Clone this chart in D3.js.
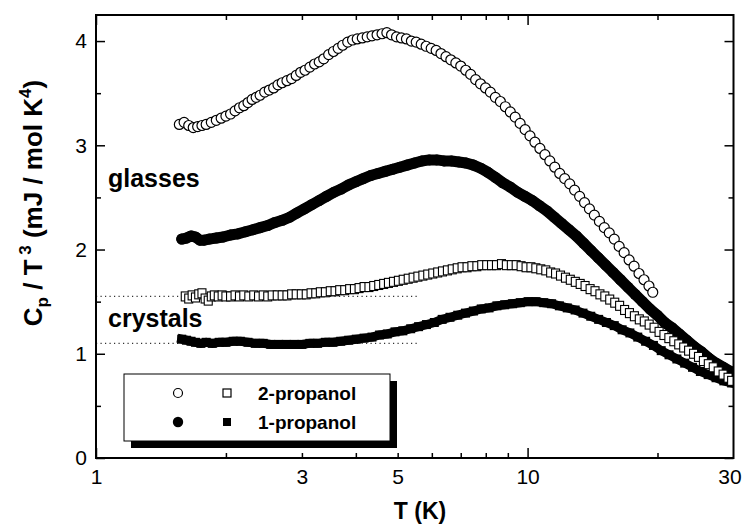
<!DOCTYPE html>
<html><head><meta charset="utf-8">
<script src="https://cdn.jsdelivr.net/npm/d3@7/dist/d3.min.js"></script>
<style>body{margin:0;background:#fff} text{font-family:"Liberation Sans",Arial,Helvetica,sans-serif}</style>
</head><body><svg id="c" width="744" height="526"></svg>
<script>
// ---- tick labels ----
const xTickLabels = [1, 3, 5, 10, 30];
const xMajorTicks = [1, 10];
const xMinorTicks = [2, 3, 4, 5, 6, 7, 8, 9, 20];
const yTickLabels = [0, 1, 2, 3, 4];
const yMinorTicks = [0.5, 1.5, 2.5, 3.5];
const refLevels = [1.55, 1.10];          // dotted low-T plateaus of the crystals
const refLevelTmax = 5.55;
const annotations = ["glasses", "crystals"];
const legendNames = ["2-propanol", "1-propanol"];

// ---- 2-propanol glass (open circles) ----
const T_glass2 = [1.56,1.60,1.64,1.68,1.72,1.76,1.80,1.85,1.90,1.95,2.00,2.05,2.10,2.15,2.20,2.25,2.30,2.35,2.40,2.46,2.52,2.58,2.64,2.70,2.77,2.84,2.91,2.98,3.05,3.13,3.21,3.29,3.37,3.46,3.55,3.64,3.73,3.83,3.93,4.03,4.14,4.25,4.36,4.48,4.60,4.72,4.84,4.97,5.10,5.24,5.38,5.52,5.67,5.82,5.98,6.14,6.30,6.47,6.64,6.82,7.00,7.19,7.38,7.58,7.78,7.99,8.20,8.42,8.65,8.88,9.12,9.36,9.61,9.87,10.13,10.40,10.68,10.97,11.26,11.56,11.87,12.19,12.52,12.85,13.20,13.55,13.91,14.28,14.67,15.06,15.46,15.88,16.30,16.74,17.19,17.65,18.12,18.61,19.11,19.50];
const C_glass2 = [3.20,3.22,3.19,3.17,3.18,3.19,3.20,3.22,3.24,3.26,3.28,3.30,3.33,3.36,3.38,3.41,3.44,3.46,3.48,3.51,3.53,3.55,3.58,3.60,3.62,3.64,3.67,3.70,3.72,3.75,3.78,3.80,3.83,3.87,3.90,3.93,3.96,3.99,4.01,4.02,4.03,4.04,4.05,4.06,4.07,4.08,4.06,4.04,4.03,4.02,4.00,3.99,3.97,3.95,3.93,3.91,3.88,3.85,3.82,3.79,3.76,3.72,3.68,3.63,3.59,3.55,3.51,3.46,3.42,3.37,3.32,3.27,3.21,3.15,3.09,3.03,2.97,2.91,2.85,2.79,2.73,2.68,2.63,2.57,2.51,2.45,2.39,2.33,2.27,2.21,2.16,2.10,2.03,1.97,1.90,1.84,1.77,1.71,1.65,1.59];

// ---- 1-propanol glass (filled circles) ----
const T_glass1 = [1.58,1.62,1.66,1.70,1.74,1.78,1.83,1.90,1.97,2.05,2.13,2.22,2.31,2.40,2.50,2.60,2.70,2.81,2.92,3.04,3.16,3.29,3.42,3.56,3.70,3.85,4.00,4.16,4.33,4.50,4.68,4.87,5.06,5.26,5.47,5.69,5.92,6.16,6.40,6.66,6.93,7.20,7.49,7.79,8.10,8.43,8.76,9.11,9.48,9.86,10.25,10.66,11.09,11.53,11.99,12.47,12.97,13.49,14.03,14.59,15.17,15.78,16.41,17.07,17.75,18.46,19.20,19.97,20.77,21.60,22.46,23.36,24.29,25.26,26.27,27.32,28.41,29.55];
const C_glass1 = [2.10,2.11,2.13,2.12,2.09,2.09,2.10,2.11,2.12,2.14,2.15,2.17,2.19,2.21,2.23,2.26,2.28,2.31,2.35,2.39,2.43,2.47,2.51,2.55,2.58,2.62,2.65,2.68,2.71,2.73,2.75,2.77,2.79,2.81,2.83,2.85,2.86,2.86,2.85,2.85,2.84,2.83,2.81,2.78,2.74,2.69,2.64,2.60,2.55,2.51,2.47,2.42,2.37,2.31,2.25,2.19,2.13,2.06,1.99,1.92,1.85,1.78,1.71,1.64,1.57,1.50,1.43,1.37,1.30,1.25,1.19,1.13,1.07,1.02,0.96,0.91,0.87,0.83];

// ---- 2-propanol crystal (open squares) ----
const T_cryst2 = [1.61,1.64,1.67,1.70,1.73,1.76,1.79,1.82,1.85,1.88,1.92,1.96,2.00,2.05,2.10,2.15,2.20,2.26,2.32,2.38,2.44,2.50,2.56,2.63,2.70,2.77,2.84,2.91,2.99,3.07,3.15,3.23,3.31,3.40,3.49,3.58,3.67,3.77,3.87,3.97,4.07,4.18,4.29,4.40,4.52,4.64,4.76,4.89,5.02,5.15,5.29,5.43,5.57,5.72,5.87,6.03,6.19,6.35,6.52,6.69,6.87,7.05,7.24,7.43,7.63,7.83,8.04,8.25,8.47,8.70,8.93,9.17,9.41,9.66,9.92,10.18,10.45,10.73,11.02,11.31,11.61,11.92,12.24,12.56,12.90,13.24,13.59,13.96,14.33,14.71,15.10,15.50,15.92,16.34,16.78,17.22,17.68,18.15,18.64,19.13,19.64,20.17,20.70,21.25,21.82,22.40,23.00,23.61,24.24,24.89,25.55,26.23,26.93,27.65,28.38,29.14,29.70];
const C_cryst2 = [1.55,1.53,1.56,1.54,1.57,1.58,1.53,1.51,1.55,1.56,1.55,1.56,1.55,1.55,1.56,1.55,1.56,1.55,1.56,1.55,1.56,1.55,1.56,1.56,1.56,1.56,1.57,1.57,1.57,1.57,1.58,1.58,1.59,1.59,1.60,1.60,1.61,1.61,1.62,1.62,1.63,1.64,1.64,1.65,1.66,1.67,1.68,1.69,1.70,1.71,1.72,1.73,1.74,1.75,1.76,1.77,1.78,1.79,1.80,1.81,1.82,1.83,1.83,1.84,1.84,1.85,1.85,1.85,1.85,1.86,1.85,1.85,1.85,1.84,1.83,1.83,1.82,1.81,1.80,1.78,1.77,1.75,1.73,1.71,1.69,1.67,1.65,1.62,1.60,1.57,1.55,1.52,1.49,1.46,1.42,1.39,1.36,1.33,1.31,1.28,1.25,1.21,1.18,1.15,1.12,1.09,1.06,1.03,1.00,0.97,0.93,0.90,0.87,0.83,0.80,0.77,0.74];

// ---- 1-propanol crystal (filled squares) ----
const T_cryst1 = [1.58,1.62,1.66,1.70,1.75,1.80,1.86,1.93,2.00,2.08,2.16,2.25,2.34,2.44,2.54,2.65,2.76,2.88,3.00,3.13,3.26,3.40,3.54,3.69,3.85,4.01,4.18,4.36,4.54,4.73,4.93,5.14,5.36,5.59,5.83,6.08,6.34,6.61,6.89,7.18,7.49,7.81,8.14,8.49,8.85,9.23,9.62,10.03,10.46,10.90,11.37,11.85,12.36,12.89,13.44,14.01,14.61,15.23,15.88,16.56,17.26,18.00,18.77,19.57,20.40,21.27,22.18,23.12,24.11,25.14,26.21,27.33,28.49,29.70];
const C_cryst1 = [1.14,1.13,1.12,1.11,1.10,1.11,1.10,1.11,1.11,1.12,1.12,1.11,1.10,1.10,1.09,1.09,1.09,1.09,1.09,1.10,1.10,1.11,1.11,1.12,1.13,1.14,1.15,1.16,1.18,1.19,1.21,1.22,1.24,1.26,1.28,1.30,1.33,1.35,1.37,1.39,1.41,1.43,1.44,1.46,1.47,1.48,1.49,1.50,1.50,1.49,1.48,1.46,1.44,1.42,1.39,1.36,1.33,1.30,1.27,1.23,1.20,1.16,1.12,1.08,1.03,0.99,0.95,0.91,0.87,0.83,0.80,0.77,0.74,0.72];

// ---------------------------------------------------------------
const svg = d3.select("#c");
const L = 96, R = 733.5, B = 458, Tp = 15;
const x = d3.scaleLog().domain([1, 30]).range([L, R]);
const y = d3.scaleLinear().domain([0, 4.25]).range([B, Tp]);
const zip = (a, b) => a.map((t, i) => [t, b[i]]);

const plot = svg.append("g");
svg.append("clipPath").attr("id", "pc").append("rect")
  .attr("x", L).attr("y", Tp).attr("width", R - L).attr("height", B - Tp);
plot.attr("clip-path", "url(#pc)");

// dotted reference levels
plot.selectAll("line.ref").data(refLevels).join("line")
  .attr("x1", x(1)).attr("x2", x(refLevelTmax))
  .attr("y1", d => y(d)).attr("y2", d => y(d))
  .attr("stroke", "#333").attr("stroke-width", 1.2).attr("stroke-dasharray", "1.2,3.3");

const line = d3.line().x(d => x(d[0])).y(d => y(d[1])).curve(d3.curveLinear);

// filled circles: 1-propanol glass
const g1 = zip(T_glass1, C_glass1);
plot.append("path").datum(g1).attr("d", line).attr("fill", "none")
  .attr("stroke", "#000").attr("stroke-width", 11).attr("stroke-linejoin", "round").attr("stroke-linecap", "round");
plot.append("g").selectAll("circle").data(g1).join("circle")
  .attr("cx", d => x(d[0])).attr("cy", d => y(d[1])).attr("r", 5.5).attr("fill", "#000");

// filled squares: 1-propanol crystal
const c1 = zip(T_cryst1, C_cryst1);
plot.append("path").datum(c1).attr("d", line).attr("fill", "none")
  .attr("stroke", "#000").attr("stroke-width", 9).attr("stroke-linejoin", "miter").attr("stroke-linecap", "square");
plot.append("g").selectAll("rect").data(c1).join("rect")
  .attr("x", d => x(d[0]) - 4.5).attr("y", d => y(d[1]) - 4.5)
  .attr("width", 9).attr("height", 9).attr("fill", "#000");

// open squares: 2-propanol crystal
const c2 = zip(T_cryst2, C_cryst2);
plot.append("g").selectAll("rect").data(c2).join("rect")
  .attr("x", d => x(d[0]) - 4).attr("y", d => y(d[1]) - 4.5)
  .attr("width", 8).attr("height", 9).attr("fill", "#fff")
  .attr("stroke", "#000").attr("stroke-width", 1.1);

// open circles: 2-propanol glass
const g2 = zip(T_glass2, C_glass2);
plot.append("g").selectAll("circle").data(g2).join("circle")
  .attr("cx", d => x(d[0])).attr("cy", d => y(d[1])).attr("r", 5)
  .attr("fill", "#fff").attr("stroke", "#000").attr("stroke-width", 1.2);

// ---- ticks (inward, all four sides) ----
function ticks(axisGen, vals, size, tr) {
  const g = svg.append("g").attr("transform", tr)
    .call(axisGen.tickValues(vals).tickSize(-size).tickFormat(""));
  g.select(".domain").remove();
  g.selectAll(".tick line").attr("stroke", "#000").attr("stroke-width", 1.5);
}
ticks(d3.axisBottom(x), xMajorTicks, 10, `translate(0,${B})`);
ticks(d3.axisBottom(x), xMinorTicks, 5, `translate(0,${B})`);
ticks(d3.axisTop(x), xMajorTicks, 10, `translate(0,${Tp})`);
ticks(d3.axisTop(x), xMinorTicks, 5, `translate(0,${Tp})`);
ticks(d3.axisLeft(y), yTickLabels, 9, `translate(${L},0)`);
ticks(d3.axisLeft(y), yMinorTicks, 5, `translate(${L},0)`);
ticks(d3.axisRight(y), yTickLabels, 9, `translate(${R},0)`);
ticks(d3.axisRight(y), yMinorTicks, 5, `translate(${R},0)`);

// frame
svg.append("rect").attr("x", L).attr("y", Tp).attr("width", R - L).attr("height", B - Tp)
  .attr("fill", "none").attr("stroke", "#000").attr("stroke-width", 2);

// tick labels
const xl = svg.append("g").attr("transform", `translate(0,${B})`)
  .call(d3.axisBottom(x).tickValues(xTickLabels).tickSize(0).tickPadding(11).tickFormat(d3.format("d")));
xl.select(".domain").remove();
xl.selectAll("text").attr("font-size", 21).attr("fill", "#000").attr("font-family", "Liberation Sans, Arial, sans-serif")
  .attr("dx", d => d === 30 ? -4 : 0);
const yl = svg.append("g").attr("transform", `translate(${L},0)`)
  .call(d3.axisLeft(y).tickValues(yTickLabels).tickSize(0).tickPadding(9).tickFormat(d3.format("d")));
yl.select(".domain").remove();
yl.selectAll("text").attr("font-size", 21).attr("fill", "#000").attr("font-family", "Liberation Sans, Arial, sans-serif");

// axis titles
svg.append("text").attr("x", 420).attr("y", 519).attr("text-anchor", "middle")
  .attr("font-size", 23).attr("font-weight", "bold").text("T (K)");
const yt = svg.append("text").attr("transform", "translate(42,203) rotate(-90)")
  .attr("text-anchor", "middle").attr("font-size", 26).attr("font-weight", "bold");
yt.append("tspan").text("C");
yt.append("tspan").attr("font-size", 17).attr("dy", 6).text("p");
yt.append("tspan").attr("dy", -6).text(" / T");
yt.append("tspan").attr("font-size", 17).attr("dy", -11).text(" 3");
yt.append("tspan").attr("dy", 11).text(" (mJ / mol K");
yt.append("tspan").attr("font-size", 17).attr("dy", -11).text("4");
yt.append("tspan").attr("dy", 11).text(")");

// annotations
svg.append("text").attr("x", 108).attr("y", 187).attr("font-size", 25).attr("font-weight", "bold").text(annotations[0]);
svg.append("text").attr("x", 108).attr("y", 327).attr("font-size", 25).attr("font-weight", "bold").text(annotations[1]);

// legend
const lg = svg.append("g");
lg.append("rect").attr("x", 131).attr("y", 381).attr("width", 266).attr("height", 67).attr("fill", "#000");
lg.append("rect").attr("x", 124).attr("y", 374).attr("width", 266).attr("height", 67)
  .attr("fill", "#fff").attr("stroke", "#000").attr("stroke-width", 1);
lg.append("circle").attr("cx", 178).attr("cy", 393).attr("r", 4.5).attr("fill", "#fff").attr("stroke", "#000").attr("stroke-width", 1.2);
lg.append("rect").attr("x", 223).attr("y", 389).attr("width", 8).attr("height", 8).attr("fill", "#fff").attr("stroke", "#000").attr("stroke-width", 1.2);
lg.append("circle").attr("cx", 178).attr("cy", 422).attr("r", 5.2).attr("fill", "#000");
lg.append("rect").attr("x", 223).attr("y", 418).attr("width", 8).attr("height", 8).attr("fill", "#000");
lg.selectAll("text").data(legendNames).join("text")
  .attr("x", 258).attr("y", (d, i) => 400 + i * 29)
  .attr("font-size", 19).attr("font-weight", "bold").text(d => d);
</script></body></html>
